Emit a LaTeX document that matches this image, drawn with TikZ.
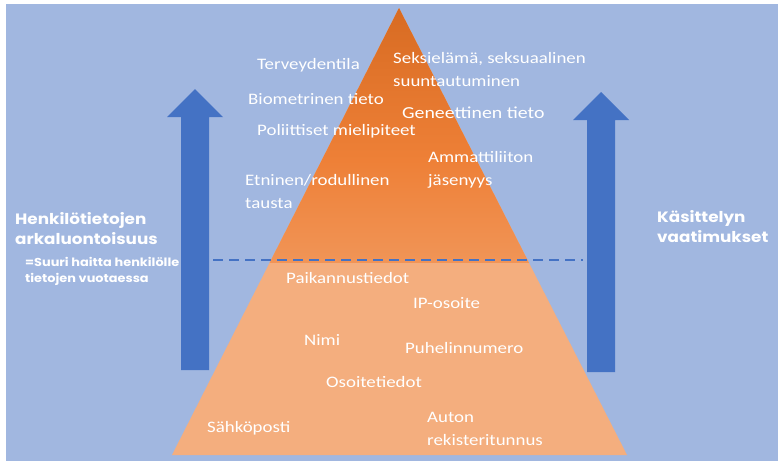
\documentclass[tikz,border=0pt]{standalone}
\usepackage{fontspec}
\newfontfamily\labelfont[FakeStretch=1.18]{Carlito}
\newfontfamily\sidefont[FakeStretch=1.12]{Poppins}
\definecolor{bgblue}{RGB}{161,183,224}
\definecolor{arrowblue}{RGB}{68,114,196}
\definecolor{orLight}{RGB}{244,174,126}
\definecolor{orMid}{RGB}{238,128,55}
\definecolor{orDark}{RGB}{197,90,17}
\pgfdeclareverticalshading{pyramidtop}{100bp}{color(0bp)=(orLight); color(45bp)=(orMid); color(100bp)=(orDark)}
\tikzset{
  lbl/.style={anchor=west, inner sep=0pt, text=white, align=left,
    font=\labelfont\fontsize{16}{23}\selectfont},
  sidebig/.style={anchor=west, inner sep=0pt, text=white, align=left,
    font=\sidefont\bfseries\fontsize{15}{20}\selectfont},
  sidesmall/.style={anchor=west, inner sep=0pt, text=white, align=left,
    font=\sidefont\bfseries\fontsize{11.5}{16}\selectfont},
  bigarrow/.style={fill=arrowblue, draw=none},
  levelline/.style={draw=arrowblue, line width=1.8pt, dash pattern=on 10pt off 6pt}
}
\begin{document}
\begin{tikzpicture}[x=1pt, y=-1pt]
% page and background panel
\useasboundingbox (0,0) rectangle (778,461);
\fill[white] (0,0) rectangle (778,461);
\fill[bgblue] (6,4) rectangle (778,461);

% pyramid: flat light base with shaded upper part
\coordinate (apex) at (399,8);
\coordinate (bl) at (172,455);
\coordinate (br) at (627,455);
\fill[orLight] (apex) -- (br) -- (bl) -- cycle;
\begin{scope}
  \clip (apex) -- (br) -- (bl) -- cycle;
  \shade[shading=pyramidtop] (160,8) rectangle (640,262);
\end{scope}

% arrows on both sides
\fill[bigarrow] (181,370) -- (181,117) -- (167,117) -- (195,89) -- (223,117) -- (209,117) -- (209,370) -- cycle;
\fill[bigarrow] (587,372) -- (587,120) -- (573,120) -- (601,92) -- (629,120) -- (615,120) -- (615,372) -- cycle;

% boundary between sensitive and ordinary data
\coordinate (dl) at (213,260);
\coordinate (dr) at (583,260);
\draw[levelline] (dl) -- (dr);

% side captions
\node[sidebig] (sens) at (15,228.5) {Henkilötietojen\\arkaluontoisuus};
\node[sidesmall] (harm) at (25,271) {=Suuri haitta henkilölle\\tietojen vuotaessa};
\node[sidebig] (req) at (657,227) {Käsittelyn\\vaatimukset};

% sensitive data (upper part)
\node[lbl] (terv) at (257,65) {Terveydentila};
\node[lbl] (seks) at (393,69.5) {Seksielämä, seksuaalinen\\suuntautuminen};
\node[lbl] (biom) at (248,99) {Biometrinen tieto};
\node[lbl, font=\labelfont\fontsize{16.8}{23}\selectfont] (gen) at (402,113) {Geneettinen tieto};
\node[lbl] (pol) at (257,131) {Poliittiset mielipiteet};
\node[lbl] (amm) at (428,170) {Ammattiliiton\\jäsenyys};
\node[lbl] (etn) at (245,191.5) {Etninen/rodullinen\\tausta};

% ordinary data (lower part)
\node[lbl] (paik) at (286,278) {Paikannustiedot};
\node[lbl] (ip) at (413,303) {IP-osoite};
\node[lbl] (nimi) at (304,340) {Nimi};
\node[lbl] (puh) at (405,348) {Puhelinnumero};
\node[lbl] (os) at (326,382) {Osoitetiedot};
\node[lbl] (sposti) at (207,428) {Sähköposti};
\node[lbl] (auto) at (427,428.5) {Auton\\rekisteritunnus};
\end{tikzpicture}
\end{document}
